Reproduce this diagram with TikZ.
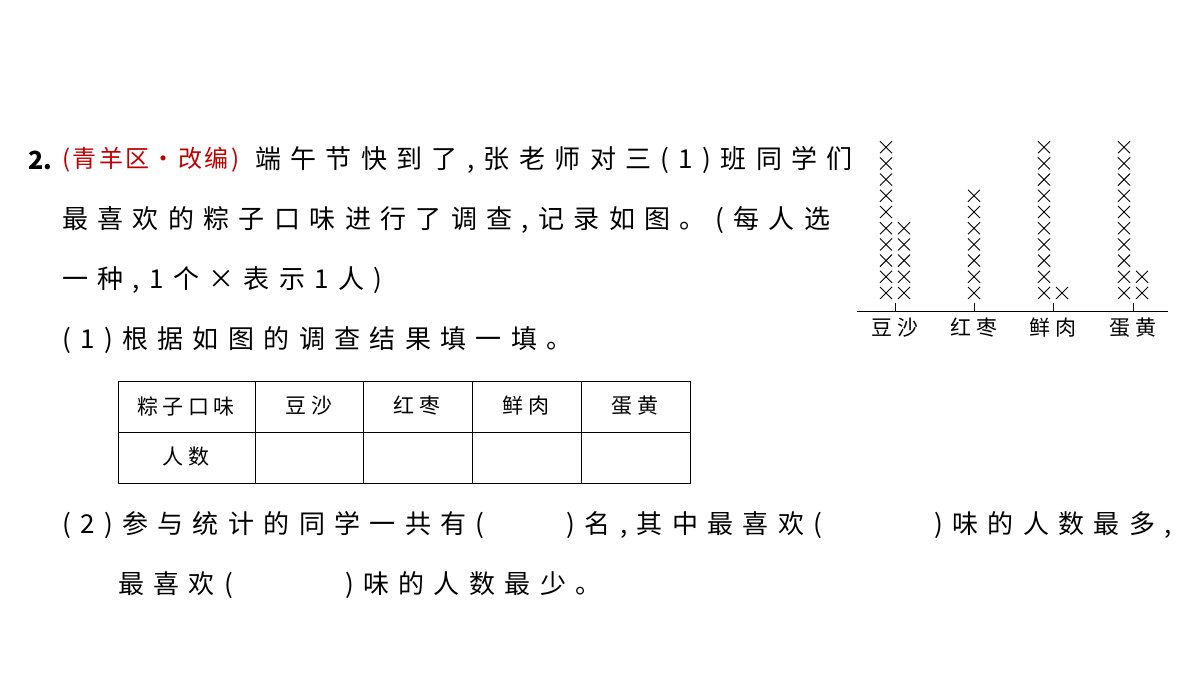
\documentclass[tikz,border=0pt]{standalone}
\usepackage{fontspec}
\setmainfont{Noto Sans CJK SC}
\begin{document}
\begin{tikzpicture}[x=1pt,y=-1pt,
  txt/.style={anchor=west,inner sep=0pt,font=\fontsize{26}{26}\selectfont\addfontfeature{LetterSpace=36}},
  lab/.style={inner sep=0pt,font=\fontsize{21}{21}\selectfont\addfontfeature{LetterSpace=20}},
  cr/.style={line width=0.9pt}]
\useasboundingbox (0,0) rectangle (1200,675);
\newcommand\xx[2]{\draw[cr] (#1-6,#2-6)--(#1+6,#2+6) (#1-6,#2+6)--(#1+6,#2-6);}
\node[anchor=west,inner sep=0pt,font=\fontsize{25}{25}\selectfont\bfseries] (n) at (28,160) {2.};
\node[anchor=west,inner sep=0pt,text=red!75!black,font=\fontsize{24}{24}\selectfont\addfontfeature{LetterSpace=10}] (src) at (62,160) {(青羊区·改编)};
\node[txt] (l1) at (255,160) {端午节快到了,张老师对三(1)班同学们};
\node[txt] (l2) at (62,220) {最喜欢的粽子口味进行了调查,记录如图。(每人选};
\node[txt] (l3) at (62,280) {一种,1个×表示1人)};
\node[txt] (l4) at (62,340) {(1)根据如图的调查结果填一填。};
\node[txt] (l5) at (62,525) {(2)参与统计的同学一共有(\hspace{82pt})名,其中最喜欢(\hspace{112pt})味的人数最多,};
\node[txt] (l6) at (118,585) {最喜欢(\hspace{112pt})味的人数最少。};
% table
\draw[line width=1pt] (118,381) rectangle (690,483);
\draw[line width=0.8pt] (118,432)--(690,432);
\foreach \x in {255,363,472,581} \draw[line width=0.8pt] (\x,381)--(\x,483);
\node[lab] (h0) at (186,406) {粽子口味};
\node[lab] (h1) at (309,406) {豆沙};
\node[lab] (h2) at (417,406) {红枣};
\node[lab] (h3) at (526,406) {鲜肉};
\node[lab] (h4) at (635,406) {蛋黄};
\node[lab] (r0) at (186,457) {人数};
% chart
\draw[line width=0.8pt] (857,311)--(1168,311);
\foreach \x in {895,974,1053,1133} \draw[line width=0.8pt] (\x,311)--(\x,303);
\foreach \i in {0,...,9} {\xx{886}{293-16.2*\i}}
\foreach \i in {0,...,4} {\xx{904}{293-16.2*\i}}
\foreach \i in {0,...,6} {\xx{974}{293-16.2*\i}}
\foreach \i in {0,...,9} {\xx{1044}{293-16.2*\i}}
\xx{1062}{293}
\foreach \i in {0,...,9} {\xx{1124}{293-16.2*\i}}
\foreach \i in {0,1} {\xx{1142}{293-16.2*\i}}
\node[lab] (c1) at (895,328) {豆沙};
\node[lab] (c2) at (974,328) {红枣};
\node[lab] (c3) at (1053,328) {鲜肉};
\node[lab] (c4) at (1133,328) {蛋黄};
\end{tikzpicture}
\end{document}
